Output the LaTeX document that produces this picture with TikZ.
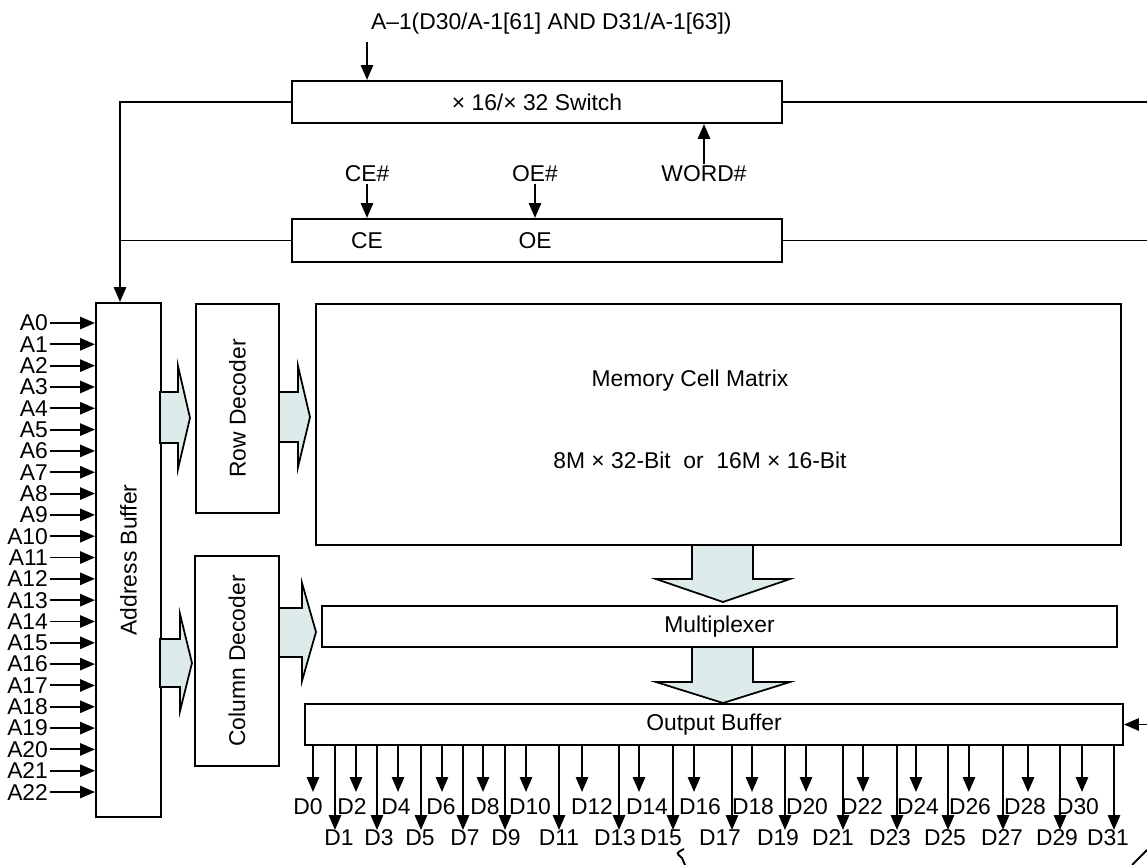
\documentclass[tikz,border=0pt]{standalone}
\usepackage{fontspec}
\setmainfont{Liberation Sans}
\usetikzlibrary{arrows.meta}
\definecolor{flow}{RGB}{221,235,235}

\begin{document}
\begin{tikzpicture}[x=0.02cm,y=-0.02cm,
		font=\fontsize{13}{15}\selectfont,
		every node/.style={inner sep=1pt},
		blk/.style={draw,line width=1.2pt,inner sep=0pt},
		arr/.style={line width=1.1pt,-{Triangle[length=8.5pt,width=7pt]}},
		wire/.style={line width=1.1pt},
		fat/.style={draw,line width=1pt,fill=flow,line join=miter}]
		%%%%% START %%%%%
		\useasboundingbox (0,0) rectangle (1147,865);
		
		\node[anchor=west] (title) at (369,24) {A–1(D30/A-1[61] AND D31/A-1[63])};
		\node[blk,minimum width=9.8cm,minimum height=0.84cm] (sw) at (537,102) {× 16/× 32 Switch};
		\node[blk,minimum width=9.8cm,minimum height=0.86cm] (ctl) at (537,240.5) {};
		\node (ce) at (367,241) {CE};
		\node (oe) at (535,241) {OE};
		\node (cen) at (367,174) {CE\#};
		\node (oen) at (535,174) {OE\#};
		\node (wordn) at (704,174) {WORD\#};
		
		\coordinate (a1) at (367,42);
		\coordinate (bus) at (120,100);
		\coordinate (rt) at (1147,0);
		\draw[arr] (a1) -- (a1 |- sw.north);
		\draw[arr] (cen.south) -- (cen.south |- ctl.north);
		\draw[arr] (oen.south) -- (oen.south |- ctl.north);
		\draw[arr] (wordn.north) -- (wordn.north |- sw.south);
		
		\node[blk,minimum width=1.3cm,minimum height=10.28cm] (ab) at (128.5,560) {\rotatebox{90}{Address Buffer}};
		\node[blk,minimum width=1.66cm,minimum height=4.18cm] (rd) at (237.5,408.5) {\rotatebox{90}{Row Decoder}};
		\node[blk,minimum width=1.68cm,minimum height=4.2cm] (cd) at (237,661) {\rotatebox{90}{Column Decoder}};
		\node[blk,minimum width=16.1cm,minimum height=4.82cm] (mem) at (718.5,424.5) {};
		\node (memt) at (690,381) {Memory Cell Matrix};
		\node (mems) at (700,460) {8M × 32-Bit~ or ~16M × 16-Bit};
		\node[blk,minimum width=15.9cm,minimum height=0.82cm] (mux) at (719.5,626.5) {Multiplexer};
		\node[blk,minimum width=16.36cm,minimum height=0.82cm] (ob) at (714,724.5) {Output Buffer};
		
		\draw[arr] (sw.west) -| (bus |- ab.north);
		\draw[wire] (ctl.west) -- (ctl.west -| bus);
		\draw[wire] (sw.east) -- (sw.east -| rt);
		\draw[wire] (ctl.east) -- (ctl.east -| rt);
		\draw[arr] (ob.east -| rt) -- (ob.east);
		
		\foreach \i in {0,...,22}{
			\node[anchor=east] (a\i) at (50,{323+21.32*\i}) {A\i};
			\draw[arr] (a\i.east) -- (a\i.east -| ab.west);
		}
		
		\draw[fat] (160,392) -- (178,392) -- (178,366) -- (190,418) -- (178,469) -- (178,443) -- (160,443) -- cycle;
		\draw[fat] (279,392) -- (298,392) -- (298,366) -- (310,417) -- (298,467) -- (298,442) -- (279,442) -- cycle;
		\draw[fat] (160,639) -- (180,639) -- (180,614) -- (192,663) -- (180,711) -- (180,687) -- (160,687) -- cycle;
		\draw[fat] (279,608) -- (302,608) -- (302,583) -- (316,632) -- (302,681) -- (302,657) -- (279,657) -- cycle;
		\draw[fat] (692,545) -- (692,579) -- (656,579) -- (723,602) -- (790,579) -- (753,579) -- (753,545) -- cycle;
		\draw[fat] (692,647) -- (692,682) -- (656,682) -- (723,703) -- (790,682) -- (753,682) -- (753,647) -- cycle;
		
		\foreach \x/\lx [count=\n from 0] in {313/308,335/339,356/352,377/379,398/396,421/420,442/441,463/465,483/485,505/506,526/530,559/559,582/592,619/615,639/647,673/661,694/700,732/720,752/753,785/778,806/807,843/833,863/862,897/890,916/918,948/945,969/970,1003/1002,1028/1025,1060/1057,1082/1078,1114/1108}{
			\ifodd\n \def\tipy{830}\def\laby{838}\else \def\tipy{792}\def\laby{807}\fi
			\coordinate (d\n) at (\x,\tipy);
			\draw[arr] (d\n |- ob.south) -- (d\n);
			\node (dl\n) at (\lx,\laby) {D\n};
		}
		
		\draw[wire] (684,849) .. controls (676,853) .. (682,858) -- (685,865);
		\draw[wire] (1132,865) -- (1147,850);
		%%%%% END %%%%%
\end{tikzpicture}
\end{document}
